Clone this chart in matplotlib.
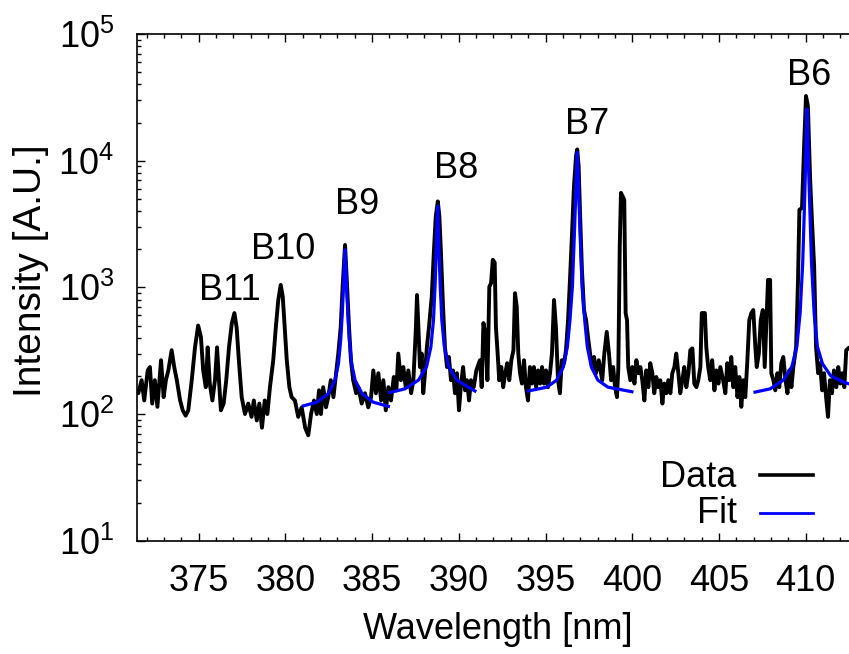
import matplotlib
matplotlib.use("Agg")
import matplotlib.pyplot as plt
from matplotlib.ticker import MultipleLocator, LogLocator

plt.rcParams["font.family"] = ["Liberation Sans", "DejaVu Sans"]
plt.rcParams["mathtext.fontset"] = "custom"
plt.rcParams["mathtext.rm"] = "Liberation Sans"
plt.rcParams["mathtext.it"] = "Liberation Sans:italic"
plt.rcParams["mathtext.bf"] = "Liberation Sans:bold"

# ── measured spectrum (nm, A.U.) ─────────────────────────────────────────────
wavelength = [
    371.44, 371.52, 371.71, 371.86, 372.06, 372.19, 372.32, 372.47, 372.62, 372.83,
    372.98, 373.11, 373.25, 373.44, 373.59, 373.74, 373.93, 374.08, 374.25, 374.40,
    374.60, 374.79, 374.97, 375.13, 375.26, 375.41, 375.52, 375.64, 375.79, 375.94,
    376.06, 376.17, 376.28, 376.44, 376.59, 376.75, 376.91, 377.06, 377.19, 377.33,
    377.48, 377.67, 377.86, 378.05,
    378.18, 378.35, 378.50, 378.65, 378.81, 378.96, 379.11, 379.30, 379.45, 379.59,
    379.73, 379.85, 379.96, 380.08, 380.23, 380.36, 380.55, 380.74, 380.94, 381.14,
    381.32, 381.48, 381.65, 381.81, 381.94, 382.05, 382.18, 382.34, 382.47, 382.62,
    382.77, 382.92, 383.05, 383.19, 383.30, 383.44, 383.55, 383.67, 383.78, 383.91,
    384.08, 384.21, 384.40, 384.59, 384.78,
    384.94, 385.07, 385.22, 385.36, 385.52, 385.65, 385.79, 385.94, 386.09, 386.25,
    386.40, 386.51, 386.66, 386.80, 386.94, 387.09, 387.25, 387.38, 387.52, 387.59,
    387.67, 387.76, 387.86, 387.95, 388.05, 388.16, 388.28, 388.44, 388.56, 388.67,
    388.79, 388.88, 388.97, 389.09, 389.20, 389.32, 389.43, 389.55, 389.66, 389.78,
    389.89, 390.01, 390.13, 390.25, 390.36, 390.47, 390.59, 390.70, 390.86, 391.01,
    391.22, 391.32, 391.42, 391.53, 391.65, 391.76, 391.86, 391.96, 392.07, 392.14,
    392.24, 392.33, 392.45, 392.56, 392.68, 392.79, 392.91, 393.03, 393.15, 393.24,
    393.34, 393.43, 393.53, 393.64, 393.76, 393.87, 393.99, 394.10, 394.22, 394.33,
    394.46, 394.57, 394.69, 394.80, 394.91, 395.03, 395.14, 395.26, 395.37, 395.49,
    395.60, 395.72, 395.83, 395.94, 396.07, 396.18, 396.30, 396.41, 396.53, 396.64,
    396.76, 396.83, 396.91, 396.99, 397.10, 397.22, 397.34, 397.45, 397.57, 397.68,
    397.80, 397.91, 398.07,
    398.14, 398.27, 398.39, 398.53, 398.66, 398.78, 398.90, 399.01, 399.12, 399.20,
    399.28, 399.35, 399.54, 399.62, 399.70, 399.77, 399.89, 400.00, 400.13, 400.24,
    400.36, 400.47, 400.58, 400.70, 400.81, 400.93, 401.04, 401.16, 401.27, 401.39,
    401.50, 401.62, 401.74, 401.85, 401.97, 402.08, 402.20, 402.31, 402.43, 402.54,
    402.66, 402.77, 402.89, 403.00, 403.12, 403.24, 403.35, 403.47, 403.58, 403.70,
    403.81, 403.93, 404.01, 404.19, 404.27, 404.38, 404.50, 404.61, 404.74, 404.85,
    404.97, 405.08, 405.24,
    405.37, 405.48, 405.60, 405.71, 405.83, 405.94, 406.07, 406.18, 406.29, 406.41,
    406.52, 406.64, 406.75, 406.87, 406.98, 407.10, 407.18, 407.30, 407.41, 407.53,
    407.64, 407.76, 407.83, 407.95, 408.02, 408.14, 408.25, 408.37, 408.48, 408.60,
    408.71, 408.84, 408.95, 409.06, 409.18, 409.29, 409.45, 409.56, 409.64, 409.79,
    409.91, 410.02, 410.13, 410.26, 410.37, 410.49, 410.60, 410.72, 410.83, 410.95,
    411.06, 411.18, 411.29, 411.40, 411.52, 411.63, 411.77, 411.88, 412.00, 412.11,
    412.23, 412.34, 412.46,
]
intensity = [
    150, 146, 185, 128, 221, 235, 121, 185, 114, 266,
    136, 185, 221, 319, 235, 185, 128, 107, 97, 107,
    185, 338, 500, 405, 221, 163, 336, 174, 128, 185,
    336, 185, 107, 121, 185, 338, 520, 627, 480, 252,
    136, 100, 121, 95,
    128, 89, 121, 78, 128, 100, 163, 266, 486, 795,
    1045, 845, 486, 266, 163, 136, 128, 95, 113, 78,
    68, 100, 128, 100, 154, 100, 163, 113, 136, 185,
    136, 208, 300, 486, 1010, 2160, 1080, 486, 266, 185,
    146, 163, 121, 146, 113,
    136, 221, 146, 210, 128, 185, 107, 163, 128, 196,
    154, 300, 185, 235, 163, 221, 146, 185, 459, 870,
    486, 235, 300, 146, 210, 338, 486, 845, 1880, 3630,
    4770, 3630, 1880, 705, 338, 235, 282, 185, 221, 146,
    210, 107, 174, 235, 154, 185, 128, 185, 163, 221,
    266, 163, 523, 435, 185, 1010, 1080, 1650, 1570, 486,
    300, 185, 235, 163, 210, 252, 185, 266, 319, 900,
    705, 300, 210, 174, 266, 163, 128, 235, 174, 235,
    163, 221, 174, 235, 174, 221, 163, 210, 300, 795,
    486, 185, 146, 266, 252, 319, 552, 1145, 2700, 6270,
    10900, 12270, 9100, 3890, 1375, 662, 552, 405, 300, 235,
    282, 210, 266,
    235, 185, 300, 445, 300, 185, 235, 163, 136, 235,
    2100, 5570, 4930, 627, 552, 235, 185, 235, 174, 266,
    210, 235, 185, 128, 221, 163, 252, 210, 146, 196,
    163, 185, 121, 174, 146, 185, 146, 210, 235, 300,
    210, 146, 185, 235, 163, 210, 319, 330, 174, 163,
    185, 235, 627, 627, 338, 235, 185, 266, 154, 221,
    174, 235, 185,
    146, 252, 185, 282, 163, 235, 136, 196, 114, 185,
    136, 266, 552, 627, 662, 338, 235, 300, 552, 662,
    235, 627, 1145, 1145, 210, 185, 154, 210, 163, 252,
    282, 185, 146, 221, 163, 235, 338, 1145, 4100, 4230,
    13000, 32400, 27000, 7100, 3230, 1460, 338, 210, 252, 154,
    210, 136, 95, 185, 146, 221, 163, 235, 174, 210,
    163, 319, 330,
]

# ── Lorentzian fits, one per Balmer line ─────────────────────────────────────
fit_b9_wl = [381.04, 381.81, 382.47, 382.86, 383.06, 383.19, 383.28, 383.36, 383.40, 383.44,
             383.48, 383.52, 383.60, 383.69, 383.82, 384.02, 384.42, 385.07, 385.94]
fit_b9_int = [116, 124, 145, 185, 250, 383, 624, 1080, 1600, 1980,
              1600, 1080, 624, 383, 250, 185, 145, 124, 115]

fit_b8_wl = [386.03, 386.89, 387.67, 388.14, 388.39, 388.54, 388.63, 388.71, 388.75, 388.78,
             388.81, 388.85, 388.93, 389.02, 389.17, 389.42, 389.89, 390.93]
fit_b8_int = [148, 158, 185, 236, 339, 552, 1015, 2100, 3300, 4370,
              3300, 2100, 1015, 552, 339, 236, 185, 152]

fit_b7_wl = [394.01, 395.07, 395.64, 396.03, 396.26, 396.41, 396.55, 396.66, 396.76, 396.80,
             396.83, 396.86, 396.90, 397.00, 397.11, 397.26, 397.41, 397.64, 398.02, 398.60,
             399.98]
fit_b7_int = [152, 163, 185, 236, 339, 552, 1015, 2523, 6280, 9500,
              11600, 9500, 6280, 2523, 1015, 552, 339, 236, 185, 163,
              150]

fit_b6_wl = [407.08, 407.95, 408.71, 409.20, 409.49, 409.68, 409.83, 409.92, 410.00, 410.04,
             410.08, 410.12, 410.16, 410.25, 410.34, 410.49, 410.68, 410.97, 411.45, 412.22,
             412.56]
fit_b6_int = [149, 158, 185, 236, 339, 624, 1550, 3860, 9620, 17000,
              25500, 17000, 9620, 3860, 1550, 624, 339, 250, 200, 178,
              172]

fits = [(fit_b9_wl, fit_b9_int), (fit_b8_wl, fit_b8_int),
        (fit_b7_wl, fit_b7_int), (fit_b6_wl, fit_b6_int)]

# peak labels and where they sit (baseline of the text)
peak_names = ["B11", "B10", "B9", "B8", "B7", "B6"]
label_pos = [(376.81, 796), (379.86, 1675), (384.13, 3790),
             (389.84, 7290), (397.39, 16300), (410.22, 39500)]

FS = 26
BLUE = "#0000ff"

fig = plt.figure(figsize=(8.49, 6.54), dpi=100)
ax = fig.add_axes([0.1617, 0.1732, 0.8383, 0.7748])

ax.plot(wavelength, intensity, color="black", lw=2.8)
for wl, it in fits:
    ax.plot(wl, it, color=BLUE, lw=2.3)

for name, (x, y) in zip(peak_names, label_pos):
    ax.text(x, y, name, ha="center", va="baseline", fontsize=FS)

ax.set_yscale("log")
ax.set_xlim(371.46, 412.50)
ax.set_ylim(10, 1e5)
ax.xaxis.set_major_locator(MultipleLocator(5))
ax.xaxis.set_minor_locator(MultipleLocator(1))
ax.yaxis.set_major_locator(LogLocator(base=10))
ax.yaxis.set_minor_locator(LogLocator(base=10, subs=range(2, 10)))

ax.spines["right"].set_visible(False)
for s in ("left", "top", "bottom"):
    ax.spines[s].set_linewidth(1.2)
ax.tick_params(which="both", direction="in", top=True, right=False,
               labelsize=FS, pad=16.5, width=1.0)
ax.tick_params(which="major", length=5.5)
ax.tick_params(which="minor", length=3)

# legend, gnuplot style: label on the left, sample line on the right
ax.text(0.8422, 0.1066, "Data", ha="right", va="baseline", fontsize=FS, transform=ax.transAxes)
ax.plot([0.8751, 0.9493], [0.1297, 0.1297], color="black", lw=2.6, transform=ax.transAxes)
ax.text(0.8422, 0.0349, "Fit", ha="right", va="baseline", fontsize=FS, transform=ax.transAxes)
ax.plot([0.8751, 0.9493], [0.0553, 0.0553], color=BLUE, lw=2.0, transform=ax.transAxes)

fig.text(497.5 / 849, (654 - 639) / 654, "Wavelength [nm]", ha="center", va="baseline", fontsize=FS)
fig.text(41 / 849, (654 - 271) / 654, "Intensity [A.U.]", rotation=90, rotation_mode="anchor",
         ha="center", va="baseline", fontsize=28)

fig.savefig("out.png", dpi=100)
